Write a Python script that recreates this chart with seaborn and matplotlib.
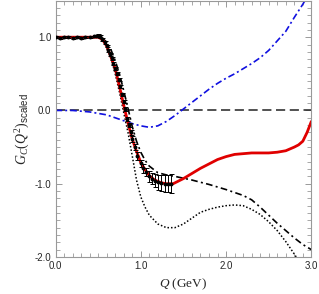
import numpy as np
import pandas as pd
import matplotlib
matplotlib.use("Agg")
import matplotlib.pyplot as plt
import seaborn as sns
from matplotlib.ticker import MultipleLocator

# data
q_data = [0.0, 0.05, 0.1, 0.15, 0.2, 0.25, 0.3, 0.35, 0.4, 0.45, 0.48, 0.5, 0.52,
          0.55, 0.58, 0.6, 0.62, 0.64, 0.66, 0.68, 0.7, 0.72, 0.74, 0.76, 0.78, 0.8,
          0.82, 0.84, 0.86, 0.88, 0.9, 0.93, 0.96, 1.0, 1.03, 1.06, 1.1, 1.13, 1.17,
          1.2, 1.24, 1.28, 1.32, 1.36]
g_data = [1.0, 0.99, 1.0, 1.0, 0.99, 1.0, 0.99, 1.0, 1.0, 1.01, 1.01, 1.02, 1.01,
          0.97, 0.93, 0.88, 0.82, 0.77, 0.71, 0.64, 0.57, 0.5, 0.42, 0.33, 0.22, 0.12,
          0.02, -0.12, -0.2, -0.3, -0.39, -0.5, -0.62, -0.72, -0.79, -0.84, -0.9, -0.93,
          -0.96, -0.98, -0.99, -1.0, -1.0, -1.0]
g_err = [0.01, 0.01, 0.01, 0.01, 0.01, 0.01, 0.01, 0.01, 0.01, 0.01, 0.01, 0.02, 0.02,
         0.02, 0.02, 0.02, 0.02, 0.02, 0.02, 0.02, 0.02, 0.02, 0.02, 0.02, 0.02, 0.02,
         0.03, 0.03, 0.03, 0.03, 0.04, 0.04, 0.05, 0.05, 0.06, 0.06, 0.07, 0.08, 0.09,
         0.1, 0.11, 0.12, 0.12, 0.13]

q_red = [0.0, 0.2, 0.4, 0.5, 0.55, 0.6, 0.65, 0.7, 0.75, 0.8, 0.85, 0.9, 0.95, 1.0,
         1.05, 1.1, 1.15, 1.2, 1.25, 1.3, 1.38, 1.5, 1.6, 1.7, 1.8, 1.9, 2.0, 2.1, 2.2,
         2.3, 2.4, 2.5, 2.6, 2.7, 2.8, 2.85, 2.9, 2.95, 3.0]
g_red = [1.0, 1.0, 1.0, 1.0, 0.97, 0.88, 0.73, 0.57, 0.33, 0.07, -0.17, -0.39, -0.56,
         -0.71, -0.81, -0.89, -0.94, -0.97, -0.99, -1.0, -1.0, -0.93, -0.86, -0.79,
         -0.73, -0.67, -0.63, -0.6, -0.59, -0.58, -0.58, -0.58, -0.57, -0.55, -0.5,
         -0.47, -0.42, -0.3, -0.15]

q_dashdot = [0.0, 0.2, 0.4, 0.5, 0.55, 0.6, 0.65, 0.7, 0.75, 0.8, 0.85, 0.9, 0.95, 1.0,
             1.05, 1.1, 1.2, 1.3, 1.4, 1.6, 1.8, 2.0, 2.2, 2.3, 2.4, 2.5, 2.6, 2.7, 2.8,
             2.9, 3.0]
g_dashdot = [1.0, 1.0, 1.0, 1.01, 0.99, 0.93, 0.83, 0.68, 0.5, 0.27, 0.03, -0.22, -0.42,
             -0.57, -0.68, -0.76, -0.85, -0.88, -0.9, -0.95, -1.01, -1.08, -1.16, -1.22,
             -1.32, -1.43, -1.54, -1.64, -1.74, -1.83, -1.9]

q_dotted = [0.0, 0.2, 0.4, 0.5, 0.55, 0.6, 0.65, 0.7, 0.75, 0.8, 0.85, 0.9, 0.95, 1.0,
            1.05, 1.1, 1.2, 1.3, 1.4, 1.5, 1.6, 1.7, 1.8, 1.9, 2.0, 2.1, 2.2, 2.3, 2.4,
            2.5, 2.6, 2.7, 2.8, 2.85]
g_dotted = [1.0, 1.0, 1.0, 1.0, 0.97, 0.88, 0.72, 0.5, 0.25, -0.03, -0.3, -0.62, -0.95,
            -1.18, -1.32, -1.43, -1.55, -1.6, -1.6, -1.55, -1.47, -1.39, -1.35, -1.32,
            -1.3, -1.29, -1.3, -1.35, -1.42, -1.52, -1.64, -1.79, -1.96, -2.05]

q_blue = [0.0, 0.2, 0.3, 0.4, 0.5, 0.6, 0.7, 0.8, 0.9, 1.0, 1.1, 1.2, 1.3, 1.4, 1.5,
          1.6, 1.7, 1.8, 1.9, 2.0, 2.1, 2.2, 2.3, 2.4, 2.5, 2.6, 2.7, 2.8, 2.9, 2.95]
g_blue = [0.0, 0.0, -0.01, -0.02, -0.04, -0.06, -0.1, -0.14, -0.18, -0.21, -0.23, -0.21,
          -0.15, -0.07, 0.02, 0.11, 0.2, 0.29, 0.37, 0.44, 0.5, 0.57, 0.64, 0.72, 0.82,
          0.95, 1.08, 1.27, 1.45, 1.55]

q_zero = [0.0, 3.0]
g_zero = [0.0, 0.0]

sns.set_style("ticks")
plt.rcParams['font.family'] = ['Liberation Sans', 'DejaVu Sans']
plt.rcParams['mathtext.fontset'] = 'custom'
plt.rcParams['mathtext.it'] = 'Liberation Serif:italic'
plt.rcParams['mathtext.rm'] = 'Liberation Serif'
plt.rcParams['mathtext.sf'] = 'Liberation Sans'

fig = plt.figure(figsize=(3.19, 2.94), dpi=100)
ax = fig.add_axes([0.174, 0.126, 0.802, 0.872])

sns.lineplot(x=q_zero, y=g_zero, ax=ax, color='#222222', lw=1.1,
             linestyle=(0, (6, 3)), sort=False)
sns.lineplot(x=q_blue, y=g_blue, ax=ax, color='#1010e0', lw=1.2,
             linestyle=(0, (4, 1.8, 1.2, 1.8)), sort=False)
sns.lineplot(x=q_dotted, y=g_dotted, ax=ax, color='black', lw=1.1,
             linestyle=(0, (1, 1.3)), sort=False)
sns.lineplot(x=q_dashdot, y=g_dashdot, ax=ax, color='black', lw=1.2,
             linestyle=(0, (4, 2, 1.2, 2)), sort=False)
sns.lineplot(x=q_red, y=g_red, ax=ax, color='#e00000', lw=2.0, sort=False)
ax.errorbar(q_data, g_data, yerr=g_err, fmt='o', color='black', ms=1.8,
            elinewidth=0.7, capsize=1.8, capthick=0.7, zorder=5)

ax.set_xlim(0, 3.0)
ax.set_ylim(-2.0, 1.5)
ax.xaxis.set_minor_locator(MultipleLocator(0.1))
ax.yaxis.set_minor_locator(MultipleLocator(0.1))
ax.set_xticks([0, 1, 2, 3])
ax.set_xticklabels(['0.0', '1.0', '2.0', '3.0'])
ax.set_yticks([-2, -1, 0, 1])
ax.set_yticklabels(['-2.0', '-1.0', '0.0', '1.0'])
ax.tick_params(which='both', direction='in', top=True, right=True,
               color='#999999', labelsize=7, pad=3)
ax.tick_params(which='major', length=4, width=0.7)
ax.tick_params(which='minor', length=3, width=0.6)
for s in ax.spines.values():
    s.set_color('#999999')
    s.set_linewidth(0.8)

ax.set_xlabel(r'$Q$ (GeV)', fontsize=9.5, family='Liberation Serif', labelpad=4)
ax.set_ylabel(r'$G_C(Q^2)_{\mathsf{scaled}}$', fontsize=10, labelpad=2)

fig.savefig('out.png', dpi=100)
